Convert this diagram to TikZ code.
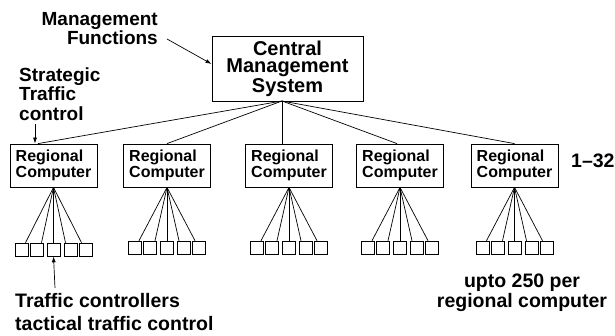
\documentclass[tikz,border=0pt]{standalone}
\usepackage{fontspec}
\setmainfont{Liberation Sans}
\usetikzlibrary{calc,arrows.meta}
\begin{document}
\begin{tikzpicture}[x=1pt,y=-1pt,
  lbl/.style={inner sep=0pt},
  central/.style={draw, line width=0.8pt, minimum width=151pt, minimum height=65pt, inner sep=0pt, align=center, font=\fontsize{20}{17.8}\selectfont\bfseries},
  regional/.style={draw, line width=0.8pt, minimum width=87pt, minimum height=43pt, inner sep=0pt, align=left, font=\fontsize{16}{16}\selectfont\bfseries},
  term/.style={draw, line width=0.6pt, minimum size=13pt, inner sep=0pt},
  conn/.style={line width=0.7pt},
  arr/.style={line width=0.7pt, -{Latex[length=6pt,width=4pt]}}]
\useasboundingbox (0,0) rectangle (615,336);

% central system
\node[central] (cms) at (287.5,68.5) {Central\\Management\\System};
\coordinate (cb) at (282,101);

% regional computers and terminals
\foreach \i/\x/\sy/\t in {1/53.5/249.5/-15.5, 2/167/247.5/0, 3/289/247.5/-7, 4/400/247.5/-3, 5/514.5/247.5/0} {
  \node[regional] (r\i) at (\x,165.5) {Regional\\Computer};
  \draw[conn] (cb) -- ($(r\i.north)+(\t,0)$);
  \foreach \j/\o in {1/-32,2/-17,3/0,4/17,5/32} {
    \node[term] (s\i\j) at (\x+\o,\sy) {};
  }
  \foreach \j/\d in {1/4,2/5,3/0,4/-5,5/-4} {
    \draw[conn] (r\i.south) -- ($(s\i\j.north)+(\d,0)$);
  }
}

% labels (anchor = baseline of the last line)
\node[lbl, align=right, anchor=base east, font=\fontsize{19}{16.8}\selectfont\bfseries] (mf) at (158,44.5) {Management\\Functions};
\node[lbl, align=left, anchor=base west, font=\fontsize{19}{19.5}\selectfont\bfseries] (st) at (19,120.5) {Strategic\\Traffic\\control};
\node[lbl, align=left, anchor=base west, font=\fontsize{19.5}{22}\selectfont\bfseries] (tc) at (15,330) {Traffic controllers\\tactical traffic control};
\node[lbl, align=center, anchor=base, font=\fontsize{19.5}{20}\selectfont\bfseries] (up) at (522,307) {upto 250 per\\regional computer};
\node[lbl, anchor=base west, font=\fontsize{19.5}{20}\selectfont\bfseries] (n32) at (571,168) {1–32};

% arrows
\coordinate (mfa) at (167,39);
\draw[arr] (mfa) -- ($(cms.west)+(0,-4.5)$);
\coordinate (sta) at (35,124);
\draw[arr] (sta) -- ($(r1.north)+(-18.5,0)$);
\coordinate (tca) at (55,288);
\draw[arr] (tca) -- (s13.south);
\end{tikzpicture}
\end{document}
